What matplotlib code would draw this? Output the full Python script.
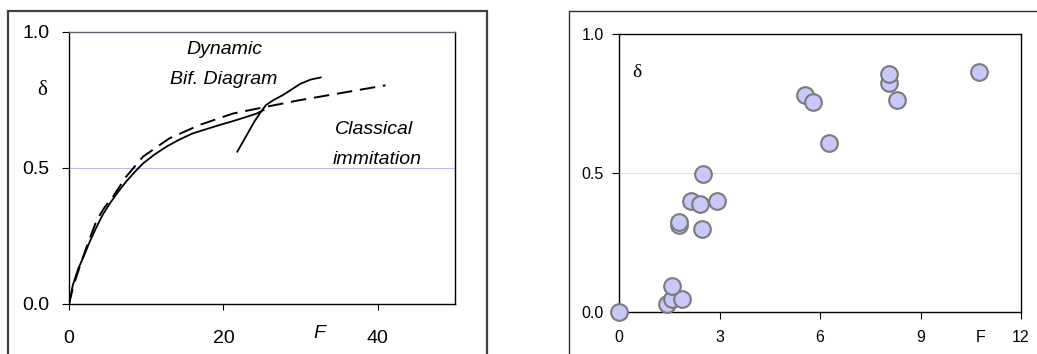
import matplotlib
matplotlib.use("Agg")
import matplotlib.pyplot as plt
from matplotlib.patches import Rectangle

# left panel: delta vs F, bifurcation branches and classical curve
dyn_F = [0.0, 0.5, 1.2, 1.9, 2.7, 3.6, 4.4, 5.3, 6.3, 7.4, 8.5, 9.6, 11.0, 12.6, 14.2, 16.0, 17.8, 19.5, 21.2, 23.0, 24.3, 25.2]
dyn_d = [0.0, 0.07, 0.13, 0.175, 0.23, 0.285, 0.33, 0.37, 0.41, 0.45, 0.485, 0.517, 0.548, 0.578, 0.603, 0.627, 0.643, 0.658, 0.672, 0.688, 0.700, 0.713]
upper_F = [21.8, 22.3, 22.9, 23.5, 24.0, 24.7, 25.5, 26.5, 27.7, 28.9, 30.0, 31.3, 32.6]
upper_d = [0.56, 0.585, 0.615, 0.645, 0.67, 0.70, 0.731, 0.75, 0.768, 0.79, 0.81, 0.825, 0.833]
cls_F = [0.0, 0.6, 1.4, 2.4, 3.6, 4.6, 5.7, 7.4, 9.6, 13.0, 16.9, 21.2, 25.9, 29.8, 34.1, 41.0]
cls_d = [0.0, 0.07, 0.138, 0.22, 0.309, 0.355, 0.395, 0.468, 0.542, 0.609, 0.658, 0.70, 0.727, 0.749, 0.77, 0.804]

# right panel: measured points
pts_F = [0.0, 1.42, 1.59, 1.87, 1.59, 1.80, 1.80, 2.15, 2.42, 2.92, 2.47, 2.52, 5.55, 5.79, 6.28, 8.05, 8.05, 8.29, 10.76]
pts_d = [0.0, 0.03, 0.046, 0.046, 0.094, 0.312, 0.324, 0.40, 0.388, 0.40, 0.297, 0.497, 0.78, 0.754, 0.607, 0.824, 0.857, 0.761, 0.864]

left_xticks = [0, 20, 40]
right_xticks = [0, 3, 6, 9, 12]
yticks = [0.0, 0.5, 1.0]

fig = plt.figure(figsize=(10.37, 3.54), dpi=100)
W, H = 1037, 354


def px_rect(x0, y0, x1, y1):
    return [x0 / W, (H - y1) / H, (x1 - x0) / W, (y1 - y0) / H]


# outer frames
fig.patches.append(Rectangle((8 / W, -0.1), (487 - 8) / W, (H - 11) / H + 0.1,
                             transform=fig.transFigure, fill=False, ec="#404040", lw=1.6))
fig.patches.append(Rectangle((569 / W, -0.1), (1040 - 569) / W, (H - 11) / H + 0.1,
                             transform=fig.transFigure, fill=False, ec="#303030", lw=1.0))

sans = "Liberation Sans"
serif = "Liberation Serif"

# ---- left
ax1 = fig.add_axes(px_rect(69, 32, 455, 304))
ax1.set_xlim(0, 50)
ax1.set_ylim(0, 1)
ax1.axhline(0.5, color="#b8b8ff", lw=0.8, zorder=0)
ax1.plot(dyn_F, dyn_d, color="black", lw=1.3)
ax1.plot(upper_F, upper_d, color="black", lw=1.3)
ax1.plot(cls_F, cls_d, color="black", lw=1.4, dashes=(8, 4))
ax1.set_xticks(left_xticks)
ax1.set_yticks(yticks)
ax1.set_xticklabels([str(v) for v in left_xticks], fontfamily=sans, fontsize=14)
ax1.set_yticklabels(["%.1f" % v for v in yticks], fontfamily=sans, fontsize=14)
ax1.tick_params(axis="x", direction="out", length=4, pad=15)
ax1.tick_params(axis="y", direction="out", length=5, pad=9)
for s in ax1.spines.values():
    s.set_color("black")
    s.set_linewidth(1.0)
ax1.spines["top"].set_color("#606070")
ax1.text(20.1, 0.935, "Dynamic", style="italic", fontfamily=sans, fontsize=14, ha="center", va="center")
ax1.text(20.1, 0.826, "Bif. Diagram", style="italic", fontfamily=sans, fontsize=14, ha="center", va="center")
ax1.text(39.5, 0.64, "Classical", style="italic", fontfamily=sans, fontsize=14, ha="center", va="center")
ax1.text(39.9, 0.53, "immitation", style="italic", fontfamily=sans, fontsize=14, ha="center", va="center")
ax1.text(-3.5, 0.786, "δ", fontfamily=serif, fontsize=15, ha="center", va="center", clip_on=False)
ax1.text(32.4, -0.107, "F", style="italic", fontfamily=sans, fontsize=14, ha="center", va="center", clip_on=False)

# ---- right
ax2 = fig.add_axes(px_rect(619, 34, 1021, 312))
ax2.set_xlim(0, 12)
ax2.set_ylim(0, 1)
ax2.axhline(0.5, color="#dcdcf2", lw=0.8, zorder=0)
ax2.plot(pts_F, pts_d, "o", ms=12, mfc="#c8c8fa", mec="#7a7a7a", mew=1.5, ls="none",
         clip_on=False, zorder=5)
ax2.set_xticks(right_xticks)
ax2.set_yticks(yticks)
ax2.set_xticklabels([str(v) for v in right_xticks], fontfamily=sans, fontsize=11.5)
ax2.set_yticklabels(["%.1f" % v for v in yticks], fontfamily=sans, fontsize=11.5)
ax2.tick_params(axis="x", direction="out", length=5, pad=8)
ax2.tick_params(axis="y", direction="out", length=5, pad=6)
for s in ax2.spines.values():
    s.set_color("black")
    s.set_linewidth(1.0)
ax2.text(0.53, 0.86, "δ", fontfamily=serif, fontsize=14, ha="center", va="center")
ax2.text(10.8, -0.09, "F", fontfamily=sans, fontsize=11.5, ha="center", va="center", clip_on=False)

fig.savefig("out.png", dpi=100)
